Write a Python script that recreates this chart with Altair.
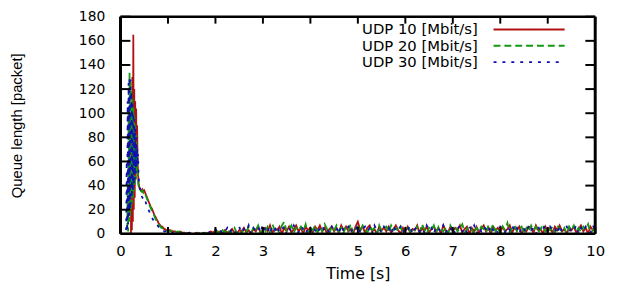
import altair as alt
import pandas as pd
import numpy as np

series = ["UDP 10 [Mbit/s]", "UDP 20 [Mbit/s]", "UDP 30 [Mbit/s]"]
colors = ["#b01010", "#109a10", "#1010b0"]
dashes = [[1, 0], [7, 4], [3, 6]]

# sample times: 0.00-0.40 step 0.01, 0.42-1.00 step 0.02, 1.05-10.00 step 0.05
t_head = [round(i * 0.01, 2) for i in range(41)]
t_mid = [round(0.42 + i * 0.02, 2) for i in range(30)]
t_tail = [round(1.05 + i * 0.05, 2) for i in range(180)]
times = t_head + t_mid + t_tail

red_head = [0] * 23 + [90, 3, 130, 10, 165, 20, 120, 30, 110, 45, 104, 55, 90, 60, 50, 42, 40, 38]
red_mid = [37, 36, 37, 35, 36, 34, 32, 30, 28, 26, 24, 22, 21, 19, 17, 15, 14, 12, 11, 9,
           8, 7, 6, 6, 5, 4, 4, 3, 3, 3]
red_tail = [3, 2, 2, 1, 2, 1, 1, 0, 1, 0,
            0, 1, 0, 0, 1, 0, 1, 2, 1, 3,
            1, 2, 0, 3, 1, 2, 4, 1, 0, 3,
            2, 5, 1, 3, 0, 4, 2, 6, 1, 3,
            5, 2, 7, 1, 4, 3, 6, 0, 5, 2,
            6, 1, 4, 7, 2, 5, 0, 6, 3, 5,
            1, 6, 3, 7, 2, 5, 0, 4, 6, 2,
            5, 1, 7, 3, 6, 2, 4, 0, 6, 10,
            3, 6, 1, 5, 7, 2, 4, 0, 6, 3,
            5, 2, 6, 1, 4, 7, 3, 0, 5, 2,
            6, 1, 4, 3, 7, 0, 5, 2, 6, 1,
            4, 6, 2, 5, 0, 7, 3, 1, 6, 2,
            5, 3, 7, 1, 4, 6, 0, 5, 2, 6,
            1, 4, 7, 2, 5, 0, 6, 3, 5, 1,
            6, 2, 4, 7, 1, 5, 3, 6, 0, 4,
            2, 6, 5, 1, 7, 3, 4, 0, 6, 2,
            5, 1, 6, 3, 7, 2, 4, 0, 5, 3,
            6, 1, 4, 7, 2, 5, 0, 6, 3, 4]

green_head = [0] * 15 + [40, 2, 100, 10, 134, 15, 128, 20, 120, 25, 112, 30, 105, 35, 98, 40,
                         90, 45, 82, 50, 70, 55, 45, 40, 38, 36]
green_mid = [36, 35, 36, 34, 35, 33, 31, 29, 27, 25, 23, 21, 19, 18, 16, 14, 12, 11, 10, 8,
             7, 6, 5, 5, 4, 4, 3, 3, 2, 2]
green_tail = [2, 3, 1, 2, 1, 2, 0, 1, 0, 1,
              0, 0, 1, 0, 0, 1, 0, 1, 2, 1,
              2, 0, 3, 1, 4, 0, 2, 5, 1, 3,
              0, 4, 2, 6, 1, 5, 3, 7, 0, 4,
              2, 6, 1, 8, 3, 5, 0, 7, 10, 2,
              4, 7, 1, 5, 3, 6, 2, 8, 0, 5,
              3, 7, 1, 5, 2, 8, 4, 0, 6, 3,
              7, 2, 5, 1, 6, 3, 8, 0, 4, 6,
              2, 7, 4, 1, 6, 3, 5, 0, 7, 2,
              4, 6, 1, 7, 3, 5, 2, 6, 0, 4,
              7, 2, 5, 3, 6, 1, 8, 4, 0, 5,
              3, 7, 1, 6, 4, 2, 5, 0, 7, 3,
              6, 2, 5, 8, 1, 4, 7, 3, 0, 5,
              2, 6, 4, 1, 7, 3, 8, 2, 5, 0,
              6, 3, 9, 1, 5, 7, 2, 4, 6, 0,
              5, 2, 7, 3, 6, 1, 4, 8, 2, 5,
              3, 6, 1, 7, 4, 2, 5, 0, 6, 3,
              7, 2, 5, 1, 6, 4, 8, 0, 3, 5]

blue_head = [0] * 12 + [5, 60, 2, 110, 8, 125, 15, 130, 20, 128, 25, 118, 30, 110, 35, 100, 40,
                        95, 45, 88, 50, 80, 55, 72, 60, 66, 50, 42, 39]
blue_mid = [35, 32, 30, 29, 30, 28, 25, 23, 21, 19, 17, 16, 14, 12, 11, 10, 9, 8, 7, 6,
            5, 4, 4, 3, 3, 2, 2, 1, 1, 1]
blue_tail = [1, 1, 0, 1, 0, 1, 0, 0, 1, 0,
             1, 0, 0, 2, 0, 1, 3, 0, 2, 4,
             1, 3, 0, 2, 5, 1, 4, 0, 3, 6,
             1, 4, 2, 7, 0, 5, 3, 6, 1, 8,
             2, 5, 0, 6, 3, 7, 1, 4, 6, 0,
             5, 2, 7, 3, 1, 6, 4, 0, 5, 2,
             6, 3, 0, 5, 7, 2, 4, 1, 6, 3,
             5, 0, 7, 2, 4, 6, 1, 5, 3, 7,
             1, 4, 6, 2, 5, 0, 7, 3, 4, 1,
             6, 3, 5, 0, 7, 2, 4, 6, 1, 5,
             3, 7, 0, 4, 6, 2, 5, 1, 7, 3,
             5, 0, 6, 4, 2, 7, 1, 5, 3, 6,
             0, 4, 7, 2, 5, 1, 6, 3, 7, 0,
             5, 2, 6, 4, 1, 7, 3, 5, 0, 6,
             4, 1, 6, 3, 7, 2, 5, 0, 6, 4,
             1, 7, 3, 5, 0, 6, 2, 4, 7, 1,
             6, 3, 5, 0, 7, 2, 4, 6, 1, 5,
             3, 7, 0, 5, 2, 6, 4, 1, 7, 3]

x_ticks = [0, 1, 2, 3, 4, 5, 6, 7, 8, 9, 10]
y_ticks = [0, 20, 40, 60, 80, 100, 120, 140, 160, 180]

W, H = 481, 220

values = [red_head + red_mid + red_tail,
          green_head + green_mid + green_tail,
          blue_head + blue_mid + blue_tail]
rows = []
for s, vals in zip(series, values):
    for i, (t, v) in enumerate(zip(times, vals)):
        rows.append({"t": t, "q": v, "series": s, "i": i})
df = pd.DataFrame(rows)

xscale = alt.Scale(domain=[0, 10], nice=False, zero=False)
yscale = alt.Scale(domain=[0, 180], nice=False)

font = "DejaVu Sans"

x_axis = alt.Axis(values=x_ticks, title="Time [s]", grid=False, domain=False,
                  tickSize=0, labelPadding=10, labelFont=font, labelFontSize=15,
                  labelColor="black", titleFont=font, titleFontSize=16,
                  titleFontWeight="normal", titleColor="black", titlePadding=7,
                  labelFlush=False, labelOverlap=False)
y_axis = alt.Axis(values=y_ticks, title="Queue length [packet]", grid=False,
                  domain=False, tickSize=0, labelPadding=16, labelFont=font,
                  labelFontSize=14, labelColor="black", titleFont="Liberation Sans",
                  titleFontSize=15, titleFontWeight="normal", titleColor="black",
                  titleX=-97, titleY=H / 2, labelFlush=False, labelOverlap=False)

lines = alt.Chart(df).mark_line(strokeWidth=1.8, clip=True).encode(
    x=alt.X("t:Q", scale=xscale, axis=x_axis),
    y=alt.Y("q:Q", scale=yscale, axis=y_axis),
    color=alt.Color("series:N", scale=alt.Scale(domain=series, range=colors), legend=None),
    strokeDash=alt.StrokeDash("series:N", scale=alt.Scale(domain=series, range=dashes),
                              legend=None),
    order="i:Q",
)

one = pd.DataFrame({"k": [0]})
xt = pd.DataFrame({"t": x_ticks})
yt = pd.DataFrame({"q": y_ticks})
tick_b = alt.Chart(xt).mark_rule(color="black", strokeWidth=2).encode(
    x=alt.X("t:Q", scale=xscale, axis=x_axis), y=alt.value(H), y2=alt.value(H - 7))
tick_t = alt.Chart(xt).mark_rule(color="black", strokeWidth=2).encode(
    x=alt.X("t:Q", scale=xscale, axis=x_axis), y=alt.value(0), y2=alt.value(7))
tick_l = alt.Chart(yt).mark_rule(color="black", strokeWidth=2).encode(
    y=alt.Y("q:Q", scale=yscale, axis=y_axis), x=alt.value(0), x2=alt.value(10))
tick_r = alt.Chart(yt).mark_rule(color="black", strokeWidth=2).encode(
    y=alt.Y("q:Q", scale=yscale, axis=y_axis), x=alt.value(W), x2=alt.value(W - 10))

frame = [
    alt.Chart(one).mark_rule(color="black", strokeWidth=3).encode(
        x=alt.value(0), y=alt.value(0), y2=alt.value(H)),
    alt.Chart(one).mark_rule(color="black", strokeWidth=3).encode(
        x=alt.value(W), y=alt.value(0), y2=alt.value(H)),
    alt.Chart(one).mark_rule(color="black", strokeWidth=2.5).encode(
        y=alt.value(0), x=alt.value(0), x2=alt.value(W)),
    alt.Chart(one).mark_rule(color="black", strokeWidth=2.5).encode(
        y=alt.value(H), x=alt.value(0), x2=alt.value(W)),
]

legend_layers = []
for k, (s, c, d) in enumerate(zip(series, colors, dashes)):
    ly = 13 + 16.5 * k
    legend_layers.append(
        alt.Chart(one).mark_text(align="right", baseline="middle", font=font, fontSize=15,
                                 color="black", text=s).encode(
            x=alt.value(362), y=alt.value(ly)))
    legend_layers.append(
        alt.Chart(one).mark_rule(color=c, strokeWidth=2, strokeDash=d).encode(
            x=alt.value(378), x2=alt.value(450), y=alt.value(ly)))

chart = alt.layer(lines, *legend_layers, tick_b, tick_t, tick_l, tick_r, *frame).properties(
    width=W, height=H,
    autosize=alt.AutoSizeParams(type="none"),
    padding={"left": 114, "top": 7, "right": 16, "bottom": 50},
).configure_view(strokeWidth=0).configure(background="white")

chart.save("out.html", embed_options={"renderer": "svg", "actions": False})
